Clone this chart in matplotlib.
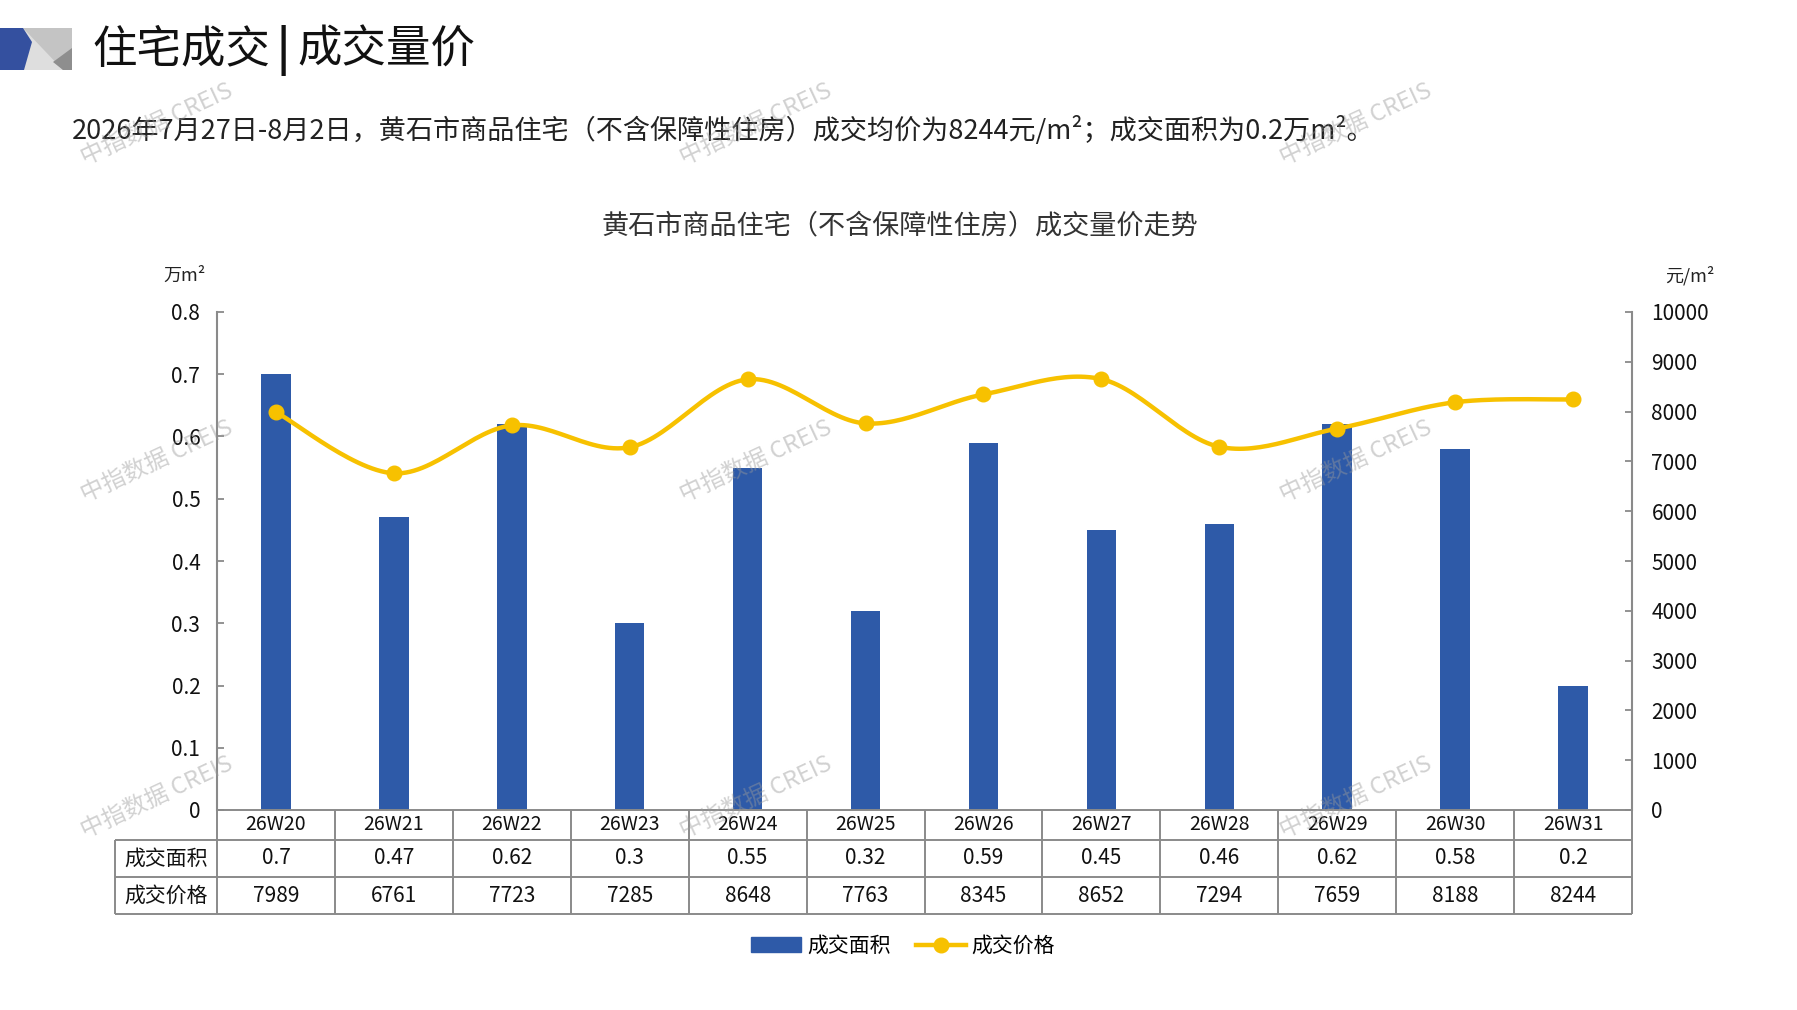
import numpy as np
import matplotlib
matplotlib.use("Agg")
import matplotlib.pyplot as plt
from matplotlib.patches import Polygon, Rectangle
from matplotlib.lines import Line2D

plt.rcParams['font.family'] = ['Noto Sans CJK SC', 'DejaVu Sans']

weeks = ["26W20", "26W21", "26W22", "26W23", "26W24", "26W25",
         "26W26", "26W27", "26W28", "26W29", "26W30", "26W31"]
area = [0.7, 0.47, 0.62, 0.3, 0.55, 0.32, 0.59, 0.45, 0.46, 0.62, 0.58, 0.2]
price = [7989, 6761, 7723, 7285, 8648, 7763, 8345, 8652, 7294, 7659, 8188, 8244]
area_labels = ["0.7", "0.47", "0.62", "0.3", "0.55", "0.32", "0.59", "0.45", "0.46", "0.62", "0.58", "0.2"]
left_ticks = [0, 0.1, 0.2, 0.3, 0.4, 0.5, 0.6, 0.7, 0.8]
right_ticks = [0, 1000, 2000, 3000, 4000, 5000, 6000, 7000, 8000, 9000, 10000]

BLUE = "#2E5AA8"
GOLD = "#F7C100"
GRID = "#8a8a8a"

W, H = 1797, 1010
fig = plt.figure(figsize=(W / 100, H / 100), dpi=100)


def fx(px):
    return px / W


def fy(py):
    return 1 - py / H


# header logo
logo = [
    ([(20, 28), (72, 28), (72, 70), (20, 70)], "#c4c4c4"),
    ([(23, 28), (63, 70), (24, 70)], "#dedede"),
    ([(72, 48), (53, 62), (63, 70), (72, 70)], "#8e8e8e"),
    ([(0, 28), (23, 28), (32, 42), (24, 70), (0, 70)], "#34509f"),
]
for pts, c in logo:
    fig.patches.append(Polygon([(fx(a), fy(b)) for a, b in pts], closed=True,
                               transform=fig.transFigure, color=c, lw=0))

fig.text(fx(92), fy(50), "住宅成交", fontsize=32, va="center", ha="left", color="#111111")
fig.text(fx(283), fy(50), "|", fontsize=32, va="center", ha="center", color="#111111", fontweight="bold")
fig.text(fx(297), fy(50), "成交量价", fontsize=32, va="center", ha="left", color="#111111")
fig.text(fx(72), fy(130), "2026年7月27日-8月2日，黄石市商品住宅（不含保障性住房）成交均价为8244元/m²；成交面积为0.2万m²。",
         fontsize=19.5, va="center", ha="left", color="#222222")
fig.text(fx(900), fy(226), "黄石市商品住宅（不含保障性住房）成交量价走势", fontsize=19.5,
         va="center", ha="center", color="#333333")

# main axes
ax_l, ax_r, ax_t, ax_b = 217, 1632, 312, 810
ax = fig.add_axes([fx(ax_l), fy(ax_b), fx(ax_r - ax_l), (ax_b - ax_t) / H])
x = np.arange(len(weeks))
ax.bar(x, area, width=0.25, color=BLUE, zorder=2)
ax.set_xlim(-0.5, len(weeks) - 0.5)
ax.set_ylim(0, 0.8)
ax.set_yticks(left_ticks)
ax.set_yticklabels(["0" if v == 0 else "%.1f" % v for v in left_ticks])
ax.set_xticks([])
for s in ["top", "right", "bottom"]:
    ax.spines[s].set_visible(False)
ax.spines["left"].set_color(GRID)
ax.spines["left"].set_linewidth(1.5)
ax.tick_params(axis="y", direction="in", length=5, width=1.3, color=GRID,
               labelsize=15, pad=12, labelcolor="#111111")

ax2 = ax.twinx()
ax2.set_ylim(0, 10000)
ax2.set_yticks(right_ticks)
for s in ["top", "left", "bottom"]:
    ax2.spines[s].set_visible(False)
ax2.spines["right"].set_color(GRID)
ax2.spines["right"].set_linewidth(1.5)
ax2.tick_params(axis="y", direction="in", length=5, width=1.3, color=GRID,
                labelsize=15, pad=14, labelcolor="#111111")

# smoothed price line (bezier through the points, like the office chart)
P = np.column_stack([x, price]).astype(float)
cx, cy = [], []
t = np.linspace(0, 1, 30)
for i in range(len(P) - 1):
    p0 = P[i - 1] if i > 0 else P[i]
    p1, p2 = P[i], P[i + 1]
    p3 = P[i + 2] if i + 2 < len(P) else P[i + 1]
    c1 = p1 + (p2 - p0) / 6
    c2 = p2 - (p3 - p1) / 6
    seg = ((1 - t) ** 3)[:, None] * p1 + (3 * (1 - t) ** 2 * t)[:, None] * c1 \
        + (3 * (1 - t) * t ** 2)[:, None] * c2 + (t ** 3)[:, None] * p2
    cx.extend(seg[:, 0])
    cy.extend(seg[:, 1])
ax2.plot(cx, cy, color=GOLD, lw=3.2, zorder=3, solid_capstyle="round")
ax2.plot(x, price, "o", color=GOLD, ms=10.5, zorder=4)

# unit labels
fig.text(fx(184), fy(276), "万m²", fontsize=13, ha="center", va="center", color="#222222")
fig.text(fx(1690), fy(276), "元/m²", fontsize=13, ha="center", va="center", color="#222222")

# data table under the chart
head_w = (ax_l - 115) / ((ax_r - ax_l) / len(weeks))
rows_px = [0, 30, 67, 104]
tax = fig.add_axes([fx(115), fy(ax_b + rows_px[-1]), fx(ax_r - 115), rows_px[-1] / H])
tax.set_xlim(-0.5 - head_w, len(weeks) - 0.5)
tax.set_ylim(rows_px[-1], 0)
tax.axis("off")
lk = dict(color=GRID, lw=1.4, solid_capstyle="butt")
left_edge = -0.5 - head_w
tax.add_line(Line2D([-0.5, len(weeks) - 0.5], [0, 0], **lk))
for r in rows_px[1:]:
    tax.add_line(Line2D([left_edge, len(weeks) - 0.5], [r, r], **lk))
tax.add_line(Line2D([left_edge, left_edge], [rows_px[1], rows_px[3]], **lk))
for i in range(len(weeks) + 1):
    tax.add_line(Line2D([i - 0.5, i - 0.5], [0, rows_px[3]], **lk))
for c in tax.lines:
    c.set_clip_on(False)

mid = [(rows_px[k] + rows_px[k + 1]) / 2 for k in range(3)]
hx = left_edge + head_w / 2
tax.text(hx, mid[1], "成交面积", fontsize=15, ha="center", va="center", color="#111111")
tax.text(hx, mid[2], "成交价格", fontsize=15, ha="center", va="center", color="#111111")
for i, w in enumerate(weeks):
    tax.text(i, mid[0], w, fontsize=14, ha="center", va="center", color="#111111")
    tax.text(i, mid[1], area_labels[i], fontsize=15, ha="center", va="center", color="#111111")
    tax.text(i, mid[2], str(price[i]), fontsize=15, ha="center", va="center", color="#111111")

# legend
handles = [Rectangle((0, 0), 1, 1, color=BLUE),
           Line2D([], [], color=GOLD, lw=3.2, marker="o", ms=10.5)]
fig.legend(handles, ["成交面积", "成交价格"], loc="center", bbox_to_anchor=(fx(903), fy(946)),
           ncol=2, frameon=False, fontsize=15, handlelength=2.4, handleheight=0.7,
           columnspacing=1.2, handletextpad=0.3)

# watermarks
for wy in [124, 461, 797]:
    for wx in [157, 756, 1356]:
        fig.text(fx(wx), fy(wy), "中指数据 CREIS", fontsize=17, rotation=25,
                 ha="center", va="center", color="#9a9a9a", alpha=0.45, zorder=20)

fig.savefig("out.png", dpi=100)
